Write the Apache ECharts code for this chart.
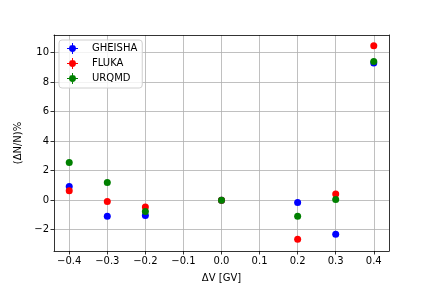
<!DOCTYPE html>
<html>
<head>
<meta charset="utf-8">
<script src="https://cdn.jsdelivr.net/npm/echarts@6/dist/echarts.min.js"></script>
<style>html,body{margin:0;padding:0;background:#fff;}#c{width:432px;height:288px;}</style>
</head>
<body>
<div id="c"></div>
<script>
const xValues = [-0.4, -0.3, -0.2, 0.0, 0.2, 0.3, 0.4];
const gheisha = [0.93, -1.10, -1.04, 0.0, -0.16, -2.32, 9.30];
const fluka   = [0.63, -0.09, -0.47, 0.0, -2.66, 0.41, 10.47];
const urqmd   = [2.55, 1.19, -0.77, 0.0, -1.10, 0.05, 9.41];
const xTicks = [-0.4, -0.3, -0.2, -0.1, 0.0, 0.1, 0.2, 0.3, 0.4];
const yTicks = [-2, 0, 2, 4, 6, 8, 10];
const seriesNames = ['GHEISHA', 'FLUKA', 'URQMD'];
const seriesColors = ['#0000ff', '#ff0000', '#008000'];

const pair = (ys) => xValues.map((x, i) => [x, ys[i]]);
const allData = [gheisha, fluka, urqmd];
const icon = 'path://M-0.7,-8 L0.7,-8 L0.7,8 L-0.7,8 Z M-8,-0.7 L8,-0.7 L8,0.7 L-8,0.7 Z M0,-5 A5,5 0 1 1 -0.01,-5 Z';
const font = 'DejaVu Sans';
const frameLine = {show: true, onZero: false, lineStyle: {color: '#000', width: 0.8}};

const chart = echarts.init(document.getElementById('c'), null, {renderer: 'canvas'});
chart.setOption({
  animation: false,
  backgroundColor: '#fff',
  grid: {left: 54, right: 43, top: 35, bottom: 36, containLabel: false},
  legend: {
    orient: 'vertical', left: 59, top: 40,
    padding: [3, 5, 4, 8],
    itemWidth: 11, itemHeight: 11, itemGap: 4,
    borderColor: '#d0d0d0', borderWidth: 1, borderRadius: 3,
    backgroundColor: 'rgba(255,255,255,0.8)',
    textStyle: {fontFamily: font, fontSize: 10, color: '#000', padding: [0, 0, 0, 9]},
    data: seriesNames.map((n, i) => ({name: n, icon: icon, itemStyle: {color: seriesColors[i]}}))
  },
  xAxis: [{
    type: 'value', min: -0.44, max: 0.44,
    name: 'ΔV [GV]', nameLocation: 'middle', nameGap: 22,
    nameTextStyle: {fontFamily: font, fontSize: 10, color: '#000'},
    axisLine: frameLine,
    axisTick: {show: true, length: 3.5, inside: false, lineStyle: {color: '#000', width: 0.8}, customValues: xTicks},
    axisLabel: {fontFamily: font, fontSize: 10, color: '#000', margin: 5, customValues: xTicks,
      formatter: v => (v < 0 ? '\u2212' : '') + Math.abs(v).toFixed(1)},
    splitLine: {show: true, lineStyle: {color: '#b0b0b0', width: 0.8}}
  }, {
    type: 'value', min: -0.44, max: 0.44, position: 'top',
    axisLine: frameLine, axisTick: {show: false}, axisLabel: {show: false}, splitLine: {show: false}
  }],
  yAxis: [{
    type: 'value', min: -3.45, max: 11.2,
    name: '(ΔN/N)%', nameLocation: 'middle', nameGap: 31, nameRotate: 90,
    nameTextStyle: {fontFamily: font, fontSize: 10, color: '#000'},
    axisLine: frameLine,
    axisTick: {show: true, length: 3.5, inside: false, lineStyle: {color: '#000', width: 0.8}, customValues: yTicks},
    axisLabel: {fontFamily: font, fontSize: 10, color: '#000', margin: 5, customValues: yTicks,
      formatter: v => (v < 0 ? '\u2212' : '') + Math.abs(v)},
    splitLine: {show: true, lineStyle: {color: '#b0b0b0', width: 0.8}}
  }, {
    type: 'value', min: -3.45, max: 11.2, position: 'right',
    axisLine: frameLine, axisTick: {show: false}, axisLabel: {show: false}, splitLine: {show: false}
  }],
  series: seriesNames.map((n, i) => ({
    name: n, type: 'scatter', symbol: 'circle', symbolSize: 7,
    xAxisIndex: 0, yAxisIndex: 0,
    itemStyle: {color: seriesColors[i], opacity: 1},
    data: pair(allData[i]), z: 2 + i
  }))
});
</script>
</body>
</html>
